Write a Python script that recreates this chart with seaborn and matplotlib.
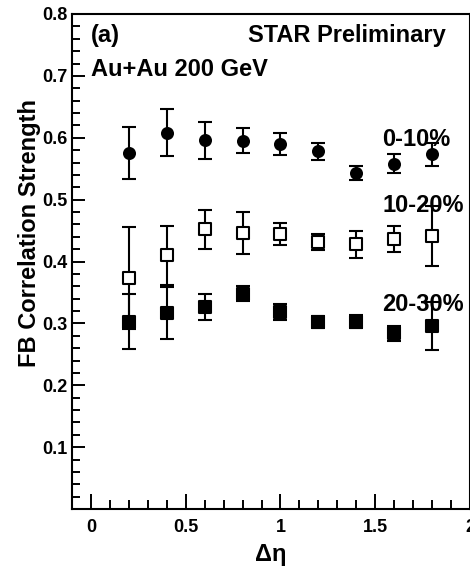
import numpy as np
import pandas as pd
import seaborn as sns
import matplotlib.pyplot as plt
from matplotlib.ticker import MultipleLocator, FixedLocator

# Values
delta_eta = [0.2, 0.4, 0.6, 0.8, 1.0, 1.2, 1.4, 1.6, 1.8]

b_0_10 = [0.576, 0.608, 0.596, 0.595, 0.590, 0.578, 0.543, 0.558, 0.573]
err_0_10 = [0.042, 0.038, 0.030, 0.020, 0.018, 0.014, 0.012, 0.015, 0.018]

b_10_20 = [0.373, 0.410, 0.452, 0.446, 0.444, 0.431, 0.428, 0.437, 0.441]
err_10_20 = [0.082, 0.048, 0.031, 0.034, 0.018, 0.013, 0.022, 0.021, 0.048]

b_20_30 = [0.303, 0.316, 0.326, 0.348, 0.318, 0.302, 0.303, 0.284, 0.296]
err_20_30 = [0.045, 0.042, 0.021, 0.012, 0.013, 0.010, 0.010, 0.012, 0.039]

centralities = ["0-10%", "10-20%", "20-30%"]
y_ticks = [0.1, 0.2, 0.3, 0.4, 0.5, 0.6, 0.7, 0.8]
x_ticks = [0, 0.5, 1, 1.5, 2]
x_tick_labels = ["0", "0.5", "1", "1.5", "2"]

sns.set_style("ticks")
plt.rcParams['font.family'] = ['Liberation Sans', 'DejaVu Sans']
plt.rcParams['font.weight'] = 'bold'
plt.rcParams['text.color'] = 'black'
plt.rcParams['axes.labelcolor'] = 'black'
plt.rcParams['axes.labelweight'] = 'bold'

fig = plt.figure(figsize=(4.7, 5.66), dpi=100)
ax = fig.add_axes([72 / 470, 57 / 566, 398 / 470, 495 / 566])

series = [
    (b_0_10, err_0_10, "o", "black", 62),
    (b_10_20, err_10_20, "s", "white", 72),
    (b_20_30, err_20_30, "s", "black", 66),
]

# error bars first, markers on top
for vals, errs, marker, face, size in series:
    ax.errorbar(delta_eta, vals, yerr=errs, fmt="none", ecolor="black",
                elinewidth=1.5, capsize=5, capthick=1.5, zorder=1)

for (vals, errs, marker, face, size), name in zip(series, centralities):
    df = pd.DataFrame({"deta": delta_eta, "b": vals})
    sns.scatterplot(data=df, x="deta", y="b", marker=marker, color=face,
                    edgecolor="black", linewidth=1.5, s=size, ax=ax, zorder=3)

ax.set_xlim(-0.1, 2.0)
ax.set_ylim(0, 0.8)

ax.xaxis.set_major_locator(FixedLocator(x_ticks))
ax.set_xticklabels(x_tick_labels, fontweight="bold")
ax.xaxis.set_minor_locator(MultipleLocator(0.1))
ax.yaxis.set_major_locator(FixedLocator(y_ticks))
ax.set_yticklabels([f"{v:g}" for v in y_ticks], fontweight="bold")
ax.yaxis.set_minor_locator(MultipleLocator(0.02))

ax.tick_params(axis="both", which="both", direction="in", width=1.4,
               top=False, right=False, labelsize=13, colors="black")
ax.tick_params(axis="x", which="major", length=11, pad=7)
ax.tick_params(axis="x", which="minor", length=6.5)
ax.tick_params(axis="y", which="major", length=9.5, pad=3)
ax.tick_params(axis="y", which="minor", length=5.8)

for sp in ax.spines.values():
    sp.set_linewidth(1.5)
    sp.set_color("black")

ax.set_xlabel("\u0394\u03b7", fontsize=17)
ax.xaxis.set_label_coords(0.5, -0.068)
ax.set_ylabel("FB Correlation Strength", fontsize=17)
ax.yaxis.set_label_coords(-0.078, 0.558)

ax.text(0.0, 0.754, "(a)", fontsize=17)
ax.text(1.87, 0.754, "STAR Preliminary", fontsize=17, ha="right")
ax.text(0.0, 0.699, "Au+Au 200 GeV", fontsize=17)

label_y = [0.587, 0.480, 0.320]
for name, ly in zip(centralities, label_y):
    ax.text(1.536, ly, name, fontsize=17)

fig.savefig("out.png", dpi=100)
